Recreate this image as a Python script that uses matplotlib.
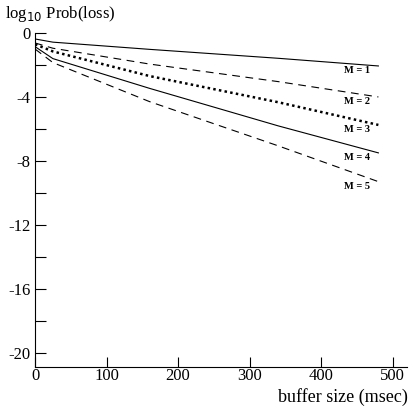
import numpy as np
import matplotlib
matplotlib.use('Agg')
import matplotlib.pyplot as plt
from matplotlib.ticker import MultipleLocator

# buffer size (msec) and log10 loss probability
buf = [0, 25, 160, 340, 480]
loss_m1 = [-0.37, -0.57, -1.02, -1.58, -2.06]
loss_m2 = [-0.62, -0.95, -1.94, -3.04, -4.0]
loss_m3 = [-0.70, -1.15, -2.69, -4.33, -5.75]
loss_m4 = [-0.85, -1.60, -3.46, -5.81, -7.5]
loss_m5 = [-1.00, -1.85, -4.29, -7.06, -9.3]
curve_lbls = ['M = 1', 'M = 2', 'M = 3', 'M = 4', 'M = 5']

plt.rcParams['font.family'] = ['Liberation Serif', 'DejaVu Serif']

fig = plt.figure(figsize=(4.17, 4.08), dpi=100)
ax = fig.add_axes([0.084, 0.1005, 0.892, 0.8185])

styles = [dict(ls='-', lw=0.8),
          dict(ls=(0, (7, 5)), lw=0.8),
          dict(ls=(0, (1, 1.3)), lw=1.8),
          dict(ls='-', lw=0.8),
          dict(ls=(0, (7, 5)), lw=0.8)]
series = [loss_m1, loss_m2, loss_m3, loss_m4, loss_m5]
for vals, st, lbl in zip(series, styles, curve_lbls):
    ax.plot(buf, vals, color='black', **st)
    # label sits just under the end of each curve
    ax.text(450, vals[-1] - 0.3, lbl, fontsize=7.5, fontweight='bold',
            ha='center', va='center',
            bbox=dict(facecolor='white', edgecolor='none', pad=0.3))

ax.set_xlim(0, 520)
ax.set_ylim(-20.9, 0)
ax.set_xticks([0, 100, 200, 300, 400, 500])
ax.yaxis.set_minor_locator(MultipleLocator(2))
ax.set_yticks([0, -4, -8, -12, -16, -20])
ax.set_yticklabels(['0', '-4', '-8', '-12', '-16', '-20'])

ax.spines['top'].set_visible(False)
ax.spines['right'].set_visible(False)
ax.tick_params(direction='in', length=8, width=0.8, labelsize=12, pad=3)
ax.tick_params(which='minor', direction='in', length=8, width=0.8)
ax.tick_params(axis='x', length=7, pad=1.0)

fig.text(0.012, 0.965, r'log$_{10}$ Prob(loss)', fontsize=12, ha='left', va='center')
fig.text(0.978, 0.027, 'buffer size (msec)', fontsize=13, ha='right', va='center')

plt.savefig('out.png', dpi=100)
